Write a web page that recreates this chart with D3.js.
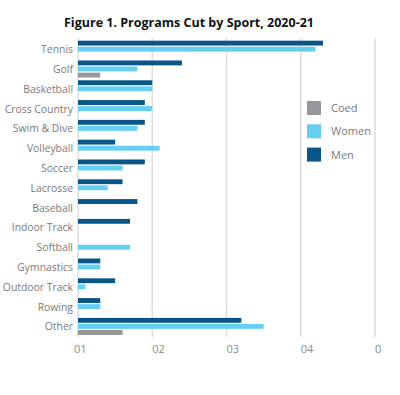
<!doctype html>
<html>
<head>
	<meta charset="UTF-8">
	<title>Programs Cut by Sport</title>
	<script src="https://d3js.org/d3.v7.min.js"></script>
	<style>
		body { margin: 0; background: #fff; }
		text { font-family: "Open Sans", sans-serif; }
	</style>
</head>
<body>
	<script>
		// data
		var sports = ["Tennis", "Golf", "Basketball", "Cross Country", "Swim & Dive", "Volleyball",
			"Soccer", "Lacrosse", "Baseball", "Indoor Track", "Softball", "Gymnastics",
			"Outdoor Track", "Rowing", "Other"];
		var men   = [33, 14, 10, 9, 9, 5, 9, 6, 8, 7, 0, 3, 5, 3, 22];
		var women = [32, 8, 10, 10, 8, 11, 6, 4, 0, 0, 7, 3, 1, 3, 25];
		var coed  = [0, 3, 0, 0, 0, 0, 0, 0, 0, 0, 0, 0, 0, 0, 6];
		var series = ["Men", "Women", "Coed"];
		var legendOrder = ["Coed", "Women", "Men"];
		var tickValues = [0, 10, 20, 30, 40];
		var tickLabels = ["01", "02", "03", "04", "0"];

		var colors = {Men: "#0a5587", Women: "#66cdf3", Coed: "#97979b"};

		var width = 400, height = 395;

		var svg = d3.select("body").append("svg")
			.attr("width", width)
			.attr("height", height);

		// title
		svg.append("text")
			.attr("x", 189)
			.attr("y", 27)
			.attr("text-anchor", "middle")
			.attr("font-size", 12.5)
			.attr("font-weight", "bold")
			.attr("fill", "#111")
			.text("Figure 1. Programs Cut by Sport, 2020-21");

		var x = d3.scaleLinear().domain([0, 40]).range([78, 375]);

		var y = d3.scaleBand()
			.domain(sports)
			.range([37.9, 337.7])
			.padding(0.14);

		var yInner = d3.scaleBand()
			.domain(series)
			.range([0, y.bandwidth()])
			.paddingInner(0.2);

		// gridlines
		svg.append("g")
			.selectAll("line")
			.data(tickValues)
			.enter()
			.append("line")
			.attr("x1", d => x(d))
			.attr("x2", d => x(d))
			.attr("y1", 38)
			.attr("y2", 337)
			.attr("stroke", "#dedede")
			.attr("stroke-width", 1.5);

		// tick labels
		svg.append("g")
			.selectAll("text")
			.data(tickValues)
			.enter()
			.append("text")
			.attr("x", (d, i) => x(d) + (i == 0 ? -4 : 0))
			.attr("y", 353)
			.attr("font-size", 11)
			.attr("fill", "#8a8a8a")
			.text((d, i) => tickLabels[i]);

		// category labels
		svg.append("g")
			.selectAll("text")
			.data(sports)
			.enter()
			.append("text")
			.attr("x", 73)
			.attr("y", d => y(d) + y.bandwidth() / 2 + 4)
			.attr("text-anchor", "end")
			.attr("font-size", 10.4)
			.attr("fill", "#7a7a7a")
			.text(d => d);

		// bars
		var rows = sports.map(function(s, i) {
			return {sport: s, Men: men[i], Women: women[i], Coed: coed[i]};
		});

		var groups = svg.append("g")
			.selectAll("g")
			.data(rows)
			.enter()
			.append("g")
			.attr("transform", d => "translate(0," + y(d.sport) + ")");

		groups.selectAll("rect")
			.data(d => series.map(k => ({key: k, value: d[k]})))
			.enter()
			.append("rect")
			.attr("x", x(0))
			.attr("y", d => yInner(d.key))
			.attr("width", d => x(d.value) - x(0))
			.attr("height", yInner.bandwidth())
			.attr("fill", d => colors[d.key]);

		// legend
		var legend = svg.append("g")
			.attr("transform", "translate(307, 101)");

		var item = legend.selectAll("g")
			.data(legendOrder)
			.enter()
			.append("g")
			.attr("transform", (d, i) => "translate(0," + (i * 23.3) + ")");

		item.append("rect")
			.attr("width", 14)
			.attr("height", 14)
			.attr("fill", d => colors[d]);

		item.append("text")
			.attr("x", 24)
			.attr("y", 11)
			.attr("font-size", 11)
			.attr("fill", "#7a7a7a")
			.text(d => d);
	</script>
</body>
</html>
